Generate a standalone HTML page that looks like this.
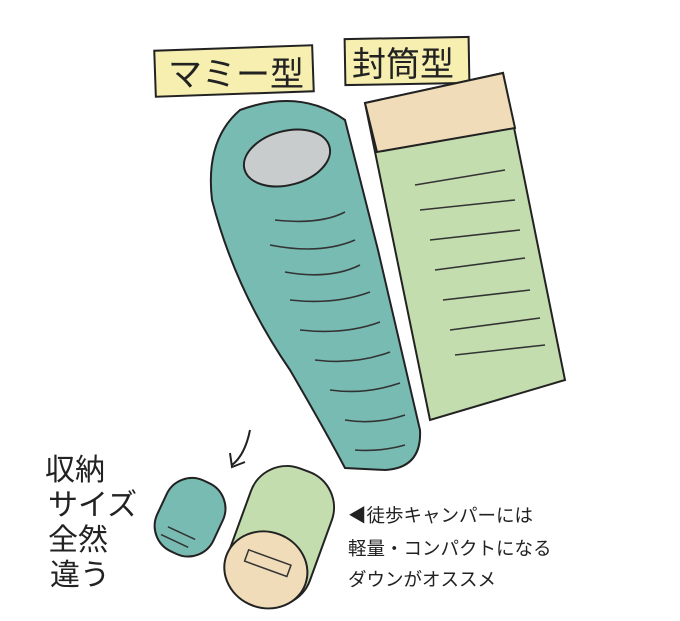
<!DOCTYPE html>
<html><head><meta charset="utf-8"><style>
html,body{margin:0;padding:0;background:#fff}
svg{display:block}
text{font-family:"Liberation Sans","Noto Sans CJK JP",sans-serif;fill:#222}
</style></head><body>
<svg width="680" height="621" viewBox="0 0 680 621" xmlns="http://www.w3.org/2000/svg">
<rect x="155" y="48" width="158" height="46" fill="#f6efb0" stroke="#222" stroke-width="2" transform="rotate(-2 234 71)"/>
<text x="168" y="86" font-size="34">マミー型</text>
<rect x="345" y="38" width="124" height="46" fill="#f6efb0" stroke="#222" stroke-width="2" transform="rotate(-1 407 61)"/>
<text x="352" y="76" font-size="34">封筒型</text>
<polygon points="365,103 503,73 565,380 430,420" fill="#c3ddae" stroke="#222" stroke-width="2"/>
<polygon points="365,103 503,73 515,128 377,152" fill="#f0dcb8" stroke="#222" stroke-width="2"/>
<g stroke="#333" stroke-width="1.6" fill="none">
<path d="M415,185 L505,170"/><path d="M420,210 L515,200"/><path d="M430,240 L520,230"/><path d="M435,270 L525,258"/><path d="M443,300 L530,290"/><path d="M450,330 L540,318"/><path d="M455,355 L545,345"/>
</g>
<path d="M240,110 Q300,88 345,120 L378,250 L420,430 Q422,468 385,470 L345,468 Q325,430 290,370 Q235,290 212,200 Q205,140 240,110 Z" fill="#78bbb3" stroke="#222" stroke-width="2"/>
<ellipse cx="287" cy="158" rx="44" ry="27" transform="rotate(-15 287 158)" fill="#c8cccc" stroke="#222" stroke-width="2"/>
<g stroke="#333" stroke-width="1.6" fill="none">
<path d="M275,220 Q320,225 345,212"/><path d="M270,245 Q320,255 355,240"/><path d="M285,272 Q330,280 360,265"/><path d="M290,300 Q335,305 370,292"/><path d="M300,330 Q345,335 380,322"/><path d="M315,360 Q355,365 390,352"/><path d="M330,390 Q365,395 400,383"/><path d="M345,420 Q375,425 405,415"/><path d="M355,450 Q380,452 405,445"/>
</g>
<path d="M250,430 Q245,455 232,465" stroke="#222" stroke-width="2" fill="none"/>
<path d="M230,453 L232,467 L245,462" stroke="#222" stroke-width="2" fill="none"/>
<g transform="rotate(25 190 515)">
<rect x="160" y="478" width="62" height="78" rx="28" fill="#78bbb3" stroke="#222" stroke-width="2"/>
<path d="M175,535 L205,535 M172,545 L202,545" stroke="#333" stroke-width="1.5"/>
</g>
<g transform="translate(0,-14) rotate(20 275 550)">
<rect x="237" y="478" width="86" height="140" rx="38" fill="#c3ddae" stroke="#222" stroke-width="2"/>
<ellipse cx="278" cy="585" rx="42" ry="38" fill="#f0dcb8" stroke="#222" stroke-width="2"/>
<rect x="255" y="572" width="45" height="12" fill="none" stroke="#333" stroke-width="1.5"/>
</g>
<g font-size="30">
<text x="45" y="480">収納</text>
<text x="48" y="515">サイズ</text>
<text x="48" y="550">全然</text>
<text x="50" y="585">違う</text>
</g>
<g font-size="18.5">
<text x="348" y="522">◀徒歩キャンパーには</text>
<text x="348" y="555">軽量・コンパクトになる</text>
<text x="348" y="586">ダウンがオススメ</text>
</g>
</svg>
</body></html>
